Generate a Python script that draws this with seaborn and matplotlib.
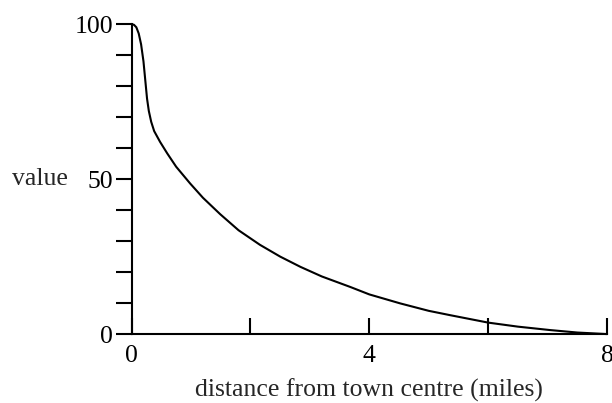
import matplotlib
matplotlib.use("Agg")
import matplotlib.pyplot as plt
import seaborn as sns
from matplotlib.ticker import MultipleLocator

# values
distance = [0.00, 0.04, 0.08, 0.12, 0.16, 0.20, 0.23, 0.26, 0.29, 0.33, 0.38,
            0.48, 0.60, 0.75, 0.985, 1.2, 1.49, 1.8, 2.16, 2.5, 2.84, 3.2,
            3.68, 4.0, 4.52, 5.0, 5.36, 6.0, 6.5, 7.04, 7.5, 8.0]
value = [100, 99.8, 99.0, 97.0, 93.5, 88, 82, 76, 72, 68.5, 65.5,
         62.0, 58.3, 54, 48.6, 44, 38.7, 33.5, 28.8, 25.0, 21.7, 18.6,
         15.2, 12.8, 9.9, 7.5, 6.1, 3.7, 2.4, 1.3, 0.5, 0.0]
x_ticks = [0, 2, 4, 6, 8]
x_labels = ["0", "", "4", "", "8"]
y_ticks = [0, 50, 100]

sns.set_style("ticks")
plt.rcParams["font.family"] = ["Liberation Serif", "DejaVu Serif"]

fig = plt.figure(figsize=(6.12, 4.03), dpi=100)
ax = fig.add_axes([0.215, 0.171, 0.777, 0.769])

sns.lineplot(x=distance, y=value, ax=ax, color="black", linewidth=1.5)
for line in ax.lines:
    line.set_clip_on(False)

ax.set_xlim(0, 8)
ax.set_ylim(0, 100)
sns.despine(ax=ax)
for side in ["left", "bottom"]:
    ax.spines[side].set_linewidth(1.5)
    ax.spines[side].set_color("black")

ax.set_xticks(x_ticks)
ax.set_xticklabels(x_labels)
ax.set_yticks(y_ticks)
ax.yaxis.set_minor_locator(MultipleLocator(10))

ax.tick_params(axis="x", direction="in", length=11.5, width=1.5,
               pad=8, labelsize=18.5, colors="black")
ax.tick_params(axis="y", which="both", direction="out", length=11.5,
               width=1.5, pad=2, labelsize=18.5, colors="black")

ax.set_xlabel("distance from town centre (miles)", fontsize=18.5)
ax.xaxis.set_label_coords(0.5, -0.18)
ax.xaxis.label.set_va("center")
ax.set_ylabel("value", fontsize=18.5, rotation=0, ha="center", va="center")
ax.yaxis.set_label_coords(-0.192, 0.5)

fig.savefig("out.png", dpi=100)
